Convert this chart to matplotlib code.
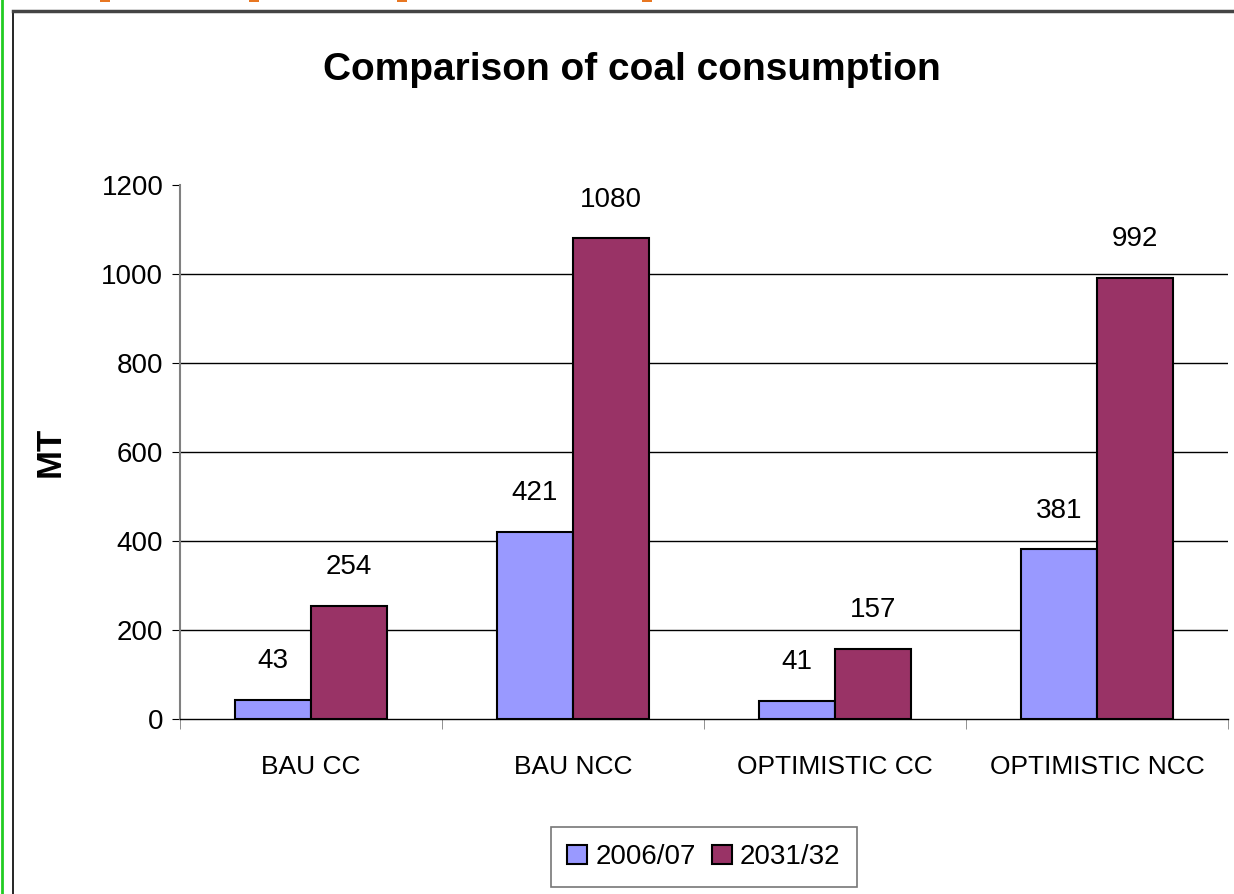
import matplotlib.pyplot as plt
import matplotlib.patches as patches
import numpy as np

# chart data
categories = ["BAU CC", "BAU NCC", "OPTIMISTIC CC", "OPTIMISTIC NCC"]
series_names = ["2006/07", "2031/32"]
values_2006 = [43, 421, 41, 381]
values_2031 = [254, 1080, 157, 992]
y_ticks = [0, 200, 400, 600, 800, 1000, 1200]

blue = "#9999FF"
plum = "#993366"

plt.rcParams['font.family'] = ['Liberation Sans', 'DejaVu Sans']

fig = plt.figure(figsize=(12.34, 8.94), dpi=100)
ax = fig.add_axes([180/1234, 1 - 719/894, 1048/1234, 534/894])

x = np.arange(len(categories))
w = 0.29
bars1 = ax.bar(x - w/2, values_2006, w, color=blue, edgecolor="black", linewidth=1.5, label=series_names[0], zorder=3)
bars2 = ax.bar(x + w/2, values_2031, w, color=plum, edgecolor="black", linewidth=1.5, label=series_names[1], zorder=3)

# value labels above bars
for bars, vals in [(bars1, values_2006), (bars2, values_2031)]:
	for b, v in zip(bars, vals):
		ax.annotate(str(v), (b.get_x() + b.get_width()/2, v), xytext=(0, 28),
			textcoords="offset points", ha="center", va="center", fontsize=20)

# axes details
ax.set_xlim(-0.5, len(categories) - 0.5)
ax.set_ylim(0, 1200)
ax.set_yticks(y_ticks)
ax.set_yticklabels([str(t) for t in y_ticks], fontsize=20)
ax.set_xticks(x)
ax.set_xticklabels(categories, fontsize=19)
ax.set_xticks(np.arange(len(categories) + 1) - 0.5, minor=True)
ax.tick_params(axis="x", which="major", length=0, pad=26)
ax.tick_params(axis="x", which="minor", length=7, color="#808080", direction="out")
ax.tick_params(axis="y", length=6, color="black", direction="out", pad=6)
for t in y_ticks[1:-1]:
	ax.axhline(t, color="black", linewidth=1, zorder=1)
ax.spines["top"].set_visible(False)
ax.spines["right"].set_visible(False)
ax.spines["left"].set_color("#808080")
ax.spines["left"].set_linewidth(1.5)
ax.spines["bottom"].set_color("black")
ax.spines["bottom"].set_linewidth(1)

ax.set_ylabel("MT", fontsize=25, fontweight="bold")
ax.yaxis.set_label_coords((67 - 180)/1048, 0.5)
fig.text(632/1234, 1 - 70/894, "Comparison of coal consumption", fontsize=28, fontweight="bold",
	ha="center", va="center")

leg = fig.legend(loc="center", bbox_to_anchor=(704/1234, 1 - 857/894), ncol=2, fontsize=20,
	frameon=True, fancybox=False, edgecolor="#555555", handlelength=0.7, handleheight=0.7,
	handletextpad=0.3, columnspacing=0.6, borderpad=0.6, borderaxespad=0)
leg.get_frame().set_linewidth(1.2)

# page decorations: green margin line, chart frame and orange marks
fig.add_artist(plt.Line2D([1.5/1234, 1.5/1234], [0, 1], color="#22CC22", linewidth=2, transform=fig.transFigure))
fig.add_artist(plt.Line2D([13/1234, 13/1234], [0, 1 - 11/894], color="black", linewidth=1.2, transform=fig.transFigure))
fig.add_artist(plt.Line2D([13/1234, 1], [1 - 11/894, 1 - 11/894], color="#444444", linewidth=2.5, transform=fig.transFigure))
for px in [105, 254, 402, 647]:
	fig.add_artist(patches.Rectangle(((px - 5)/1234, 1 - 2/894), 10/1234, 2/894, facecolor="#E87722",
		linewidth=0, transform=fig.transFigure))

plt.savefig("out.png", dpi=100)
